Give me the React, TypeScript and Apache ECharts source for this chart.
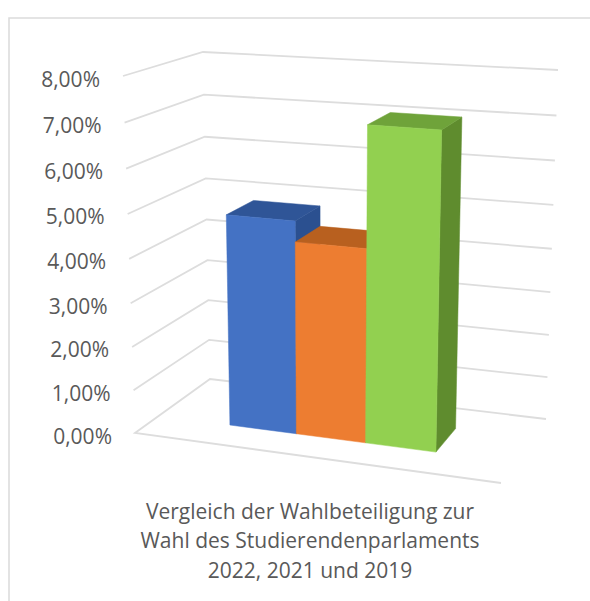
import React, { useEffect, useRef } from "react";
import * as echarts from "echarts";

const categories = ["2022", "2021", "2019"];
const turnout = [4.87, 4.4, 7.09];
const tickValues = [0, 1, 2, 3, 4, 5, 6, 7, 8];
const tickLabels = ["0,00%", "1,00%", "2,00%", "3,00%", "4,00%", "5,00%", "6,00%", "7,00%", "8,00%"];
const titleLines = [
  "Vergleich der Wahlbeteiligung zur",
  "Wahl des Studierendenparlaments",
  "2022, 2021 und 2019",
];
const frontColors = ["#4472C4", "#ED7D31", "#92D050"];
const topColors = ["#2F5597", "#B8601F", "#6FA33A"];
const sideColors = ["#2B5090", "#A9561C", "#5F8C2E"];

const GRID = { left: 135, top: 76, width: 366, height: 357 };
const FONT = '"Open Sans", sans-serif';
const TEXT = "#595959";

// Corners of the perspective box: [bottom, top]
const FL = [[135, 433], [123, 76]];
const BL = [[210, 379], [203, 52]];
const BR = [[546, 419], [558, 70]];
const FR = [[501, 483], [512, 102]];
const K = 1.05;
const BAR_U: [number, number] = [0.199, 0.777];
const BAR_W: [number, number] = [0.32, 0.7];

const persp = (t: number) => t / (t + K * (1 - t));
const edge = (e: number[][], t: number) => {
  const f = persp(t);
  return [e[0][0] + (e[1][0] - e[0][0]) * f, e[0][1] + (e[1][1] - e[0][1]) * f];
};
const project = (u: number, w: number, t: number) => {
  const a = edge(FL, t), b = edge(FR, t), c = edge(BL, t), d = edge(BR, t);
  const fx = a[0] + (b[0] - a[0]) * u, fy = a[1] + (b[1] - a[1]) * u;
  const bx = c[0] + (d[0] - c[0]) * u, by = c[1] + (d[1] - c[1]) * u;
  return [fx + (bx - fx) * w, fy + (by - fy) * w];
};
const tOf = (py: number) => (GRID.top + GRID.height - py) / GRID.height;
const uOf = (px: number) => {
  const n = Math.max(0, (px - GRID.left) / GRID.width);
  return BAR_U[0] + (BAR_U[1] - BAR_U[0]) * Math.pow(n, 1.03);
};

const renderGrid = (_: any, api: any) => {
  const t = tOf(api.coord([0, api.value(1)])[1]);
  const pts = [project(0, 0, t), project(0, 1, t), project(1, 1, t)];
  if (t === 0) pts.unshift(project(1, 0, t));
  return {
    type: "polyline",
    shape: { points: pts },
    style: { stroke: "#DDDDDD", lineWidth: 1.8, fill: "none" },
  };
};

const renderLabel = (params: any, api: any) => {
  const t = tOf(api.coord([0, api.value(1)])[1]);
  const p = project(0, 0, t);
  return {
    type: "text",
    style: {
      text: tickLabels[params.dataIndex],
      x: p[0] - 23,
      y: p[1] + 2.5,
      textAlign: "right",
      textVerticalAlign: "middle",
      font: `21px ${FONT}`,
      fill: TEXT,
    },
  };
};

const renderBar = (params: any, api: any) => {
  const i = api.value(0);
  const top = api.coord([i, api.value(1)]);
  const bw = api.size([1, 0])[0];
  const u0 = uOf(top[0] - bw / 2);
  const u1 = uOf(top[0] + bw / 2);
  const t = tOf(top[1]);
  const [w0, w1] = BAR_W;
  const poly = (points: number[][], fill: string) => ({
    type: "polygon",
    shape: { points },
    style: { fill, stroke: fill, lineWidth: 0.5 },
  });
  return {
    type: "group",
    children: [
      poly([project(u1, w0, 0), project(u1, w1, 0), project(u1, w1, t), project(u1, w0, t)], sideColors[i]),
      poly([project(u0, w0, t), project(u0, w1, t), project(u1, w1, t), project(u1, w0, t)], topColors[i]),
      poly([project(u0, w0, 0), project(u1, w0, 0), project(u1, w0, t), project(u0, w0, t)], frontColors[i]),
    ],
  };
};

export default function App() {
  const ref = useRef<HTMLDivElement>(null);
  useEffect(() => {
    const chart = echarts.init(ref.current!, undefined, { renderer: "svg" });
    chart.setOption({
      animation: false,
      backgroundColor: "#FFFFFF",
      title: {
        text: titleLines.join("\n"),
        left: 305,
        top: 491,
        textAlign: "center",
        textStyle: { fontFamily: FONT, fontSize: 21, fontWeight: "normal", color: TEXT, lineHeight: 29.5 },
      },
      grid: { left: GRID.left, top: GRID.top, width: GRID.width, height: GRID.height },
      xAxis: { type: "category", data: categories, show: false },
      yAxis: { type: "value", min: 0, max: 8, interval: 1, show: false },
      graphic: [
        {
          type: "rect",
          shape: { x: 9, y: 18, width: 700, height: 700 },
          style: { fill: "none", stroke: "#DCDCDC", lineWidth: 1.6 },
          silent: true,
          z: -1,
        },
      ],
      series: [
        { type: "custom", name: "grid", silent: true, z: 1, renderItem: renderGrid, data: tickValues.map((v) => [0, v]), encode: { x: 0, y: 1 } },
        { type: "custom", name: "labels", silent: true, z: 2, renderItem: renderLabel, data: tickValues.map((v) => [0, v]), encode: { x: 0, y: 1 } },
        { type: "custom", name: "Wahlbeteiligung", silent: true, z: 3, renderItem: renderBar, data: turnout.map((v, i) => [i, v]), encode: { x: 0, y: 1 } },
      ],
    });
    return () => chart.dispose();
  }, []);
  return <div ref={ref} style={{ position: "fixed", left: 0, top: 0, width: 590, height: 601 }} />;
}
